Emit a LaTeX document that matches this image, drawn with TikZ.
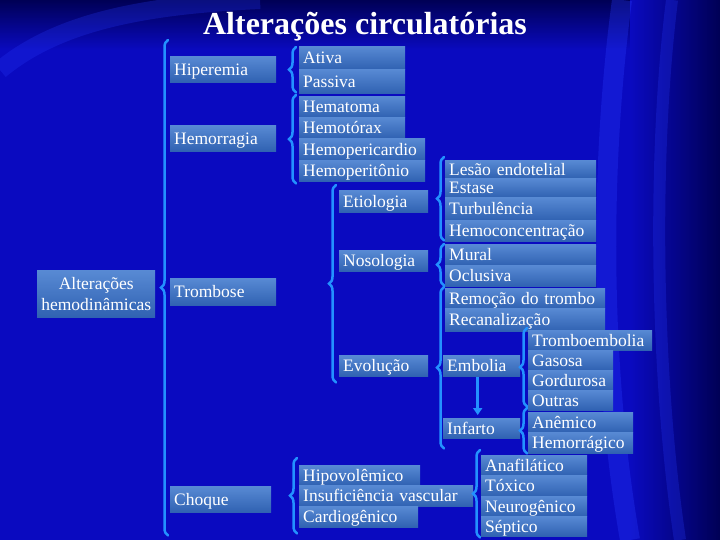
\documentclass[tikz,border=0pt]{standalone}
\usepackage{fontspec}
\setmainfont{Liberation Serif}
\usetikzlibrary{decorations.pathreplacing,arrows.meta}
\definecolor{fundoazul}{RGB}{10,10,192}
\definecolor{fundoescuro}{RGB}{0,0,85}
\definecolor{brilho}{RGB}{40,60,255}
\definecolor{caixatopo}{RGB}{88,138,212}
\definecolor{caixabase}{RGB}{48,98,178}
\definecolor{chaveazul}{RGB}{35,145,255}
\begin{document}
\begin{tikzpicture}[x=1pt,y=-1pt,
    base/.style={top color=caixatopo,bottom color=caixabase,text=white,inner sep=0pt,font=\fontsize{17.5}{21}\selectfont},
    caixa/.style={base,anchor=north west,inner xsep=4pt,text width=#1,align=left,text height=15pt,text depth=3pt,minimum height=21pt},
    raiz/.style={base,anchor=north west,inner xsep=3pt,text width=112pt,align=center,minimum height=47pt},
    chave/.style={draw=chaveazul,line width=2.5pt,line cap=round,decorate,decoration={brace,amplitude=7pt}},
    seta/.style={draw=chaveazul,line width=2.5pt,-{Triangle[length=7pt,width=9pt]}}]
  \useasboundingbox (0,0) rectangle (720,540);
  \fill[fundoazul] (0,0) rectangle (720,540);
  \shade[top color=fundoescuro,bottom color=fundoazul] (0,0) rectangle (720,50);
  \shade[left color=fundoazul,right color=fundoescuro] (630,0) rectangle (720,540);
  \draw[brilho,line width=20pt,opacity=.3] (622,0) .. controls (598,180) and (602,380) .. (630,540);
  \draw[brilho,line width=12pt,opacity=.25] (672,0) .. controls (652,160) and (656,380) .. (680,540);
  \draw[brilho,line width=18pt,opacity=.25] (0,70) .. controls (60,20) and (150,5) .. (260,0);
  \node[font=\fontsize{32}{36}\selectfont\bfseries,text=white,anchor=base] (titulo) at (365,35) {Alterações circulatórias};
  \path
    (37,270) node[raiz] (alteracoes) {Alterações\\hemodinâmicas}
    (170,56) node[caixa=98pt,minimum height=26pt] (hiperemia) {Hiperemia}
    (170,125) node[caixa=98pt,minimum height=26pt] (hemorragia) {Hemorragia}
    (170,278) node[caixa=98pt,minimum height=27pt] (trombose) {Trombose}
    (170,486) node[caixa=93pt,minimum height=26pt] (choque) {Choque}
    (299,46) node[caixa=98pt,minimum height=23pt] (ativa) {Ativa}
    (299,69) node[caixa=98pt,minimum height=24pt] (passiva) {Passiva}
    (299,96) node[caixa=98pt] (hematoma) {Hematoma}
    (299,117) node[caixa=98pt] (hemotorax) {Hemotórax}
    (299,138) node[caixa=118pt,minimum height=22pt] (hemopericardio) {Hemopericardio}
    (299,160) node[caixa=118pt] (hemoperitonio) {Hemoperitônio}
    (339,190) node[caixa=81pt,minimum height=22pt] (etiologia) {Etiologia}
    (339,250) node[caixa=81pt] (nosologia) {Nosologia}
    (339,355) node[caixa=81pt] (evolucao) {Evolução}
    (445,160) node[caixa=143pt,minimum height=18pt] (lesao) {Lesão endotelial}
    (445,178) node[caixa=143pt,minimum height=19pt] (estase) {Estase}
    (445,197) node[caixa=143pt,minimum height=23pt] (turbulencia) {Turbulência}
    (445,220) node[caixa=143pt] (hemoconcentracao) {Hemoconcentração}
    (445,244) node[caixa=143pt] (mural) {Mural}
    (445,265) node[caixa=143pt] (oclusiva) {Oclusiva}
    (445,288) node[caixa=152pt,minimum height=20pt] (remocao) {Remoção do trombo}
    (445,308) node[caixa=152pt,minimum height=23pt] (recanalizacao) {Recanalização}
    (443,355) node[caixa=69pt] (embolia) {Embolia}
    (443,418) node[caixa=69pt,minimum height=20pt] (infarto) {Infarto}
    (528,330) node[caixa=116pt,minimum height=20pt] (tromboembolia) {Tromboembolia}
    (528,350) node[caixa=77pt,minimum height=20pt] (gasosa) {Gasosa}
    (528,370) node[caixa=77pt,minimum height=20pt] (gordurosa) {Gordurosa}
    (528,390) node[caixa=77pt,minimum height=20pt] (outras) {Outras}
    (528,412) node[caixa=97pt,minimum height=20pt] (anemico) {Anêmico}
    (528,432) node[caixa=97pt] (hemorragico) {Hemorrágico}
    (299,465) node[caixa=113pt,minimum height=20pt] (hipovolemico) {Hipovolêmico}
    (299,485) node[caixa=166pt] (insuficiencia) {Insuficiência vascular}
    (299,506) node[caixa=111pt] (cardiogenico) {Cardiogênico}
    (481,455) node[caixa=98pt,minimum height=20pt] (anafilatico) {Anafilático}
    (481,475) node[caixa=98pt] (toxico) {Tóxico}
    (481,496) node[caixa=98pt,minimum height=20pt] (neurogenico) {Neurogênico}
    (481,516) node[caixa=98pt,minimum height=20pt] (septico) {Séptico};
  \draw[chave] ([xshift=-2pt,yshift=-23pt]choque.south west) -- ([xshift=-2pt,yshift=16pt]hiperemia.north west);
  \draw[chave] ([xshift=-3pt,yshift=1pt]passiva.south west) -- ([xshift=-3pt,yshift=-1pt]ativa.north west);
  \draw[chave] ([xshift=-3pt,yshift=-2pt]hemoperitonio.south west) -- ([xshift=-3pt,yshift=1pt]hematoma.north west);
  \draw[chave] ([xshift=-3pt,yshift=-6pt]evolucao.south west) -- ([xshift=-3pt,yshift=5pt]etiologia.north west);
  \draw[chave] ([xshift=-1pt,yshift=1pt]hemoconcentracao.south west) -- ([xshift=-1pt,yshift=3pt]lesao.north west);
  \draw[chave] ([xshift=-1pt,yshift=1pt]oclusiva.south west) -- ([xshift=-1pt]mural.north west);
  \draw[chave] ([xshift=1pt,yshift=-10pt]infarto.south west) -- ([xshift=-1pt,yshift=1pt]remocao.north west);
  \draw[chave] ([xshift=-1pt,yshift=4pt]outras.south west) -- ([xshift=-1pt,yshift=2pt]tromboembolia.north west);
  \draw[chave] ([xshift=-1pt]hemorragico.south west) -- ([xshift=-1pt,yshift=4pt]anemico.north west);
  \draw[chave] ([xshift=-2pt,yshift=-6pt]cardiogenico.south west) -- ([xshift=-2pt,yshift=7pt]hipovolemico.north west);
  \draw[chave] ([xshift=-1pt,yshift=-1pt]septico.south west) -- ([xshift=-1pt,yshift=5pt]anafilatico.north west);
  \draw[seta,shorten <=1pt,shorten >=3pt] ([xshift=-4pt]embolia.south) -- ([xshift=-4pt]infarto.north);
\end{tikzpicture}
\end{document}
